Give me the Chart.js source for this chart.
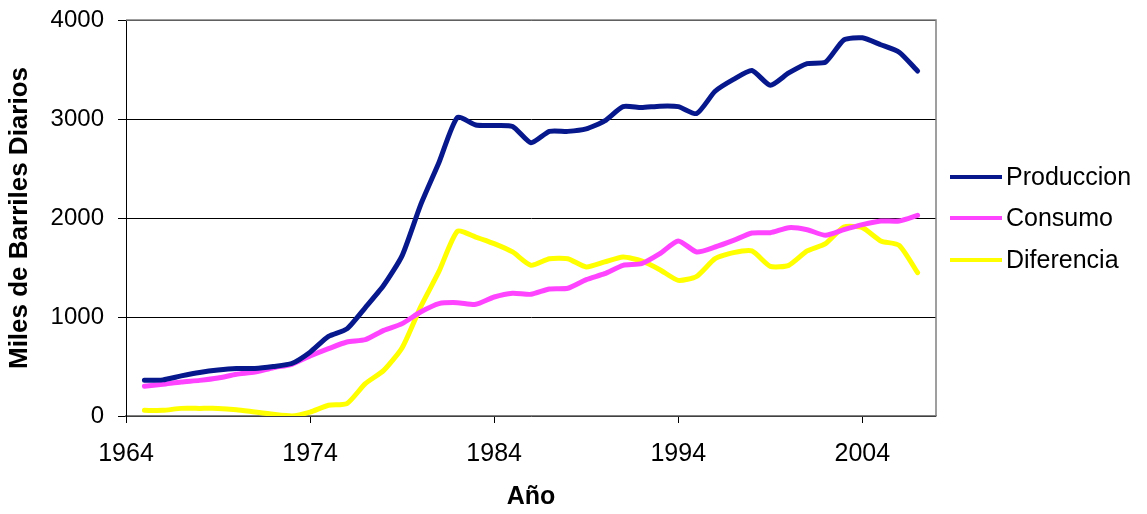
<!DOCTYPE html>
<html lang="es">
<head>
<meta charset="UTF-8">
<title>Produccion y Consumo</title>
<script src="https://cdn.jsdelivr.net/npm/chart.js@4/dist/chart.umd.min.js"></script>
<style>
  html, body { margin: 0; padding: 0; background: #fff; }
  #wrap { width: 1147px; height: 514px; }
</style>
</head>
<body>
<div id="wrap"><canvas id="chart"></canvas></div>
<script>
const years = [1965, 1966, 1967, 1968, 1969, 1970, 1971, 1972, 1973, 1974,
  1975, 1976, 1977, 1978, 1979, 1980, 1981, 1982, 1983, 1984,
  1985, 1986, 1987, 1988, 1989, 1990, 1991, 1992, 1993, 1994,
  1995, 1996, 1997, 1998, 1999, 2000, 2001, 2002, 2003, 2004,
  2005, 2006, 2007];

const produccion = [360, 365, 405, 440, 465, 480, 480, 500, 530, 645,
  805, 880, 1095, 1320, 1620, 2130, 2560, 3015, 2940, 2935,
  2925, 2760, 2875, 2875, 2900, 2980, 3125, 3115, 3130, 3125,
  3055, 3280, 3400, 3490, 3340, 3465, 3560, 3575, 3800, 3820,
  3750, 3675, 3485];

const consumo = [300, 320, 343, 360, 384, 421, 444, 488, 522, 606,
  680, 747, 771, 865, 933, 1050, 1135, 1145, 1128, 1202,
  1240, 1229, 1283, 1290, 1377, 1438, 1522, 1539, 1640, 1768,
  1657, 1707, 1774, 1848, 1852, 1902, 1882, 1825, 1882, 1933,
  1970, 1970, 2027];

const diferencia = [57, 57, 77, 77, 77, 64, 40, 17, 0, 40,
  108, 125, 327, 461, 690, 1100, 1460, 1865, 1808, 1741,
  1657, 1522, 1589, 1589, 1505, 1556, 1606, 1566, 1478, 1370,
  1411, 1589, 1650, 1667, 1512, 1522, 1667, 1741, 1909, 1902,
  1768, 1724, 1448];

const xTicks = [1964, 1974, 1984, 1994, 2004];
const yTicks = [0, 1000, 2000, 3000, 4000];

const pts = (vals) => vals.map((v, i) => ({ x: years[i], y: v }));

const font = "'Liberation Sans', Arial, sans-serif";

// gray frame on top and right of the plot area
const frame = {
  id: 'frame',
  afterDraw(chart) {
    const { ctx, chartArea: a } = chart;
    ctx.save();
    ctx.strokeStyle = '#808080';
    ctx.lineWidth = 1.5;
    ctx.beginPath();
    ctx.moveTo(a.left, a.top);
    ctx.lineTo(a.right, a.top);
    ctx.lineTo(a.right, a.bottom);
    ctx.stroke();
    ctx.restore();
  }
};

// legend on the right, lines + labels
const sideLegend = {
  id: 'sideLegend',
  afterDraw(chart) {
    const { ctx } = chart;
    const x0 = 950, x1 = 1002, tx = 1006;
    const rows = [177, 218, 260];
    ctx.save();
    ctx.font = '25px ' + font;
    ctx.textBaseline = 'middle';
    ctx.fillStyle = '#000';
    chart.data.datasets.forEach((ds, i) => {
      ctx.strokeStyle = ds.borderColor;
      ctx.lineWidth = 4;
      ctx.beginPath();
      ctx.moveTo(x0, rows[i]);
      ctx.lineTo(x1, rows[i]);
      ctx.stroke();
      ctx.fillText(ds.label, tx, rows[i] + 1);
    });
    ctx.restore();
  }
};

const line = (label, vals, color) => ({
  label: label,
  data: pts(vals),
  borderColor: color,
  backgroundColor: color,
  borderWidth: 5,
  pointRadius: 0,
  tension: 0.2,
  borderJoinStyle: 'round',
  borderCapStyle: 'round',
  fill: false
});

new Chart(document.getElementById('chart'), {
  type: 'line',
  data: {
    datasets: [
      line('Produccion', produccion, '#06188c'),
      line('Consumo', consumo, '#ff44ff'),
      line('Diferencia', diferencia, '#ffff00')
    ]
  },
  options: {
    responsive: true,
    maintainAspectRatio: false,
    animation: false,
    layout: { padding: { top: 20, right: 211, left: 0, bottom: 0 } },
    plugins: {
      legend: { display: false },
      tooltip: { enabled: false }
    },
    scales: {
      x: {
        type: 'linear',
        min: 1964,
        max: 2008,
        afterBuildTicks: (s) => { s.ticks = xTicks.map(v => ({ value: v })); },
        afterFit: (s) => { s.height = 98; s.paddingLeft = 0; s.paddingRight = 0; },
        grid: { drawOnChartArea: false, drawTicks: true, tickLength: 7, color: '#000' },
        border: { display: true, color: '#808080', width: 1.5 },
        ticks: {
          padding: 16,
          color: '#000',
          font: { family: font, size: 25 },
          callback: (v) => String(v)
        },
        title: {
          display: true,
          text: 'Año',
          color: '#000',
          font: { family: font, size: 25, weight: 'bold' },
          padding: { top: 0, bottom: 2 }
        }
      },
      y: {
        min: 0,
        max: 4000,
        afterBuildTicks: (s) => { s.ticks = yTicks.map(v => ({ value: v })); },
        afterFit: (s) => { s.width = 126; s.paddingTop = 0; s.paddingBottom = 0; },
        grid: { color: '#000', lineWidth: 1, drawTicks: true, tickLength: 8 },
        border: { display: true, color: '#000', width: 1 },
        ticks: {
          padding: 14,
          color: '#000',
          font: { family: font, size: 24 },
          callback: (v) => String(v)
        },
        title: {
          display: true,
          text: 'Miles de Barriles Diarios',
          color: '#000',
          font: { family: font, size: 26, weight: 'bold' },
          padding: { top: 4, bottom: 0 }
        }
      }
    }
  },
  plugins: [frame, sideLegend]
});
</script>
</body>
</html>
